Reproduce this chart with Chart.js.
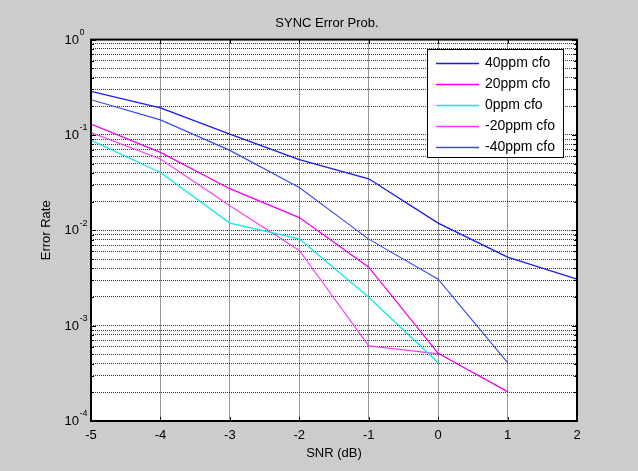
<!DOCTYPE html>
<html><head><meta charset="utf-8">
<script src="https://cdn.jsdelivr.net/npm/chart.js@4/dist/chart.umd.min.js"></script>
<style>html,body{margin:0;padding:0;background:#cccccc;}canvas{display:block;}</style>
</head><body>
<canvas id="c" width="638" height="471"></canvas>
<script>
// ---- data ----
const snr = [-5, -4, -3, -2, -1, 0, 1, 2];
const seriesLabels = ['40ppm cfo', '20ppm cfo', '0ppm cfo', '-20ppm cfo', '-40ppm cfo'];
const cfoPos40 = [0.286, 0.192, 0.102, 0.055, 0.0347, 0.0119, 0.00523, 0.00307];
const cfoPos20 = [0.130, 0.0656, 0.0273, 0.0136, 0.00411, 0.000513, 0.000203, null];
const cfo0     = [0.0877, 0.0404, 0.0119, 0.00814, 0.00199, 0.000409, null, null];
const cfoNeg20 = [0.106, 0.0559, 0.0181, 0.00614, 0.000613, 0.000505, null, null];
const cfoNeg40 = [0.234, 0.144, 0.0689, 0.0281, 0.00808, 0.00307, 0.000409, null];
const xTicks = [-5, -4, -3, -2, -1, 0, 1, 2];
const yDecades = [0.0001, 0.001, 0.01, 0.1, 1];
const yDecadeBase = '10';
const yDecadeExponents = ['-4', '-3', '-2', '-1', '0'];
const yMinorMultipliers = [2, 3, 4, 5, 6, 7, 8, 9];
const titleText = 'SYNC Error Prob.';
const xTitle = 'SNR (dB)';
const yTitle = 'Error Rate';

// ---- styles ----
const seriesValues = [cfoPos40, cfoPos20, cfo0, cfoNeg20, cfoNeg40];
const seriesColors = ['#1a1aee', '#ee00ee', '#10e8e8', '#ff3cff', '#3a4af2'];
const seriesWidths = [1.3, 1.3, 1.3, 1.15, 1.15];
const FONT = '"Liberation Sans", Arial, sans-serif';

const yTickValues = [];
yDecades.forEach((d, i) => {
  yTickValues.push(d);
  if (i < yDecades.length - 1) yMinorMultipliers.forEach(m => yTickValues.push(Number((d * m).toPrecision(3))));
});
const decadeIndex = v => yDecades.findIndex(d => Math.abs(d - v) / d < 1e-6);

Chart.defaults.font.family = FONT;
Chart.defaults.font.size = 13;
Chart.defaults.color = '#000';

const matlabPlugin = {
  id: 'matlab',
  beforeDraw(chart) {
    const {ctx, chartArea: a} = chart;
    ctx.save();
    ctx.fillStyle = '#cccccc';
    ctx.fillRect(0, 0, chart.width, chart.height);
    ctx.fillStyle = '#ffffff';
    ctx.fillRect(a.left, a.top, a.right - a.left, a.bottom - a.top);
    ctx.restore();
  },
  afterDraw(chart) {
    const {ctx, chartArea: a, scales} = chart;
    ctx.save();
    // inward tick marks
    ctx.strokeStyle = '#000';
    ctx.lineWidth = 1;
    ctx.beginPath();
    scales.x.ticks.forEach(t => {
      const px = Math.round(scales.x.getPixelForValue(t.value)) + 0.5;
      ctx.moveTo(px, a.bottom); ctx.lineTo(px, a.bottom - 4);
      ctx.moveTo(px, a.top); ctx.lineTo(px, a.top + 4);
    });
    scales.y.ticks.forEach(t => {
      const py = Math.round(scales.y.getPixelForValue(t.value)) + 0.5;
      const len = decadeIndex(t.value) >= 0 ? 5 : 3;
      ctx.moveTo(a.left, py); ctx.lineTo(a.left + len, py);
      ctx.moveTo(a.right, py); ctx.lineTo(a.right - len, py);
    });
    ctx.stroke();
    // frame
    ctx.lineWidth = 2;
    ctx.strokeRect(a.left, a.top, a.right - a.left, a.bottom - a.top);
    // y decade labels with superscript exponents, placed by the y scale
    ctx.fillStyle = '#000';
    ctx.textBaseline = 'middle';
    yDecades.forEach((d, i) => {
      const py = scales.y.getPixelForValue(d);
      const xr = a.left - 12;
      ctx.font = '13px ' + FONT;
      ctx.textAlign = 'right';
      ctx.fillText(yDecadeBase, xr, py + 0.5);
      ctx.font = '9px ' + FONT;
      ctx.textAlign = 'left';
      ctx.fillText(yDecadeExponents[i], xr + 0.5, py - 7);
    });
    // legend box
    const lx = 427, ly = 49, lw = 136, lh = 108;
    ctx.fillStyle = '#fff';
    ctx.fillRect(lx, ly, lw, lh);
    ctx.lineWidth = 1;
    ctx.strokeStyle = '#000';
    ctx.strokeRect(lx + 0.5, ly + 0.5, lw, lh);
    ctx.font = '14px ' + FONT;
    ctx.textBaseline = 'middle';
    ctx.textAlign = 'left';
    chart.data.datasets.forEach((ds, i) => {
      const y = 63 + i * 21;
      ctx.strokeStyle = ds.borderColor;
      ctx.lineWidth = 1.3;
      ctx.beginPath();
      ctx.moveTo(436, y + 0.5); ctx.lineTo(479, y + 0.5);
      ctx.stroke();
      ctx.fillStyle = '#000';
      ctx.fillText(ds.label, 485, y);
    });
    ctx.restore();
  }
};

new Chart(document.getElementById('c'), {
  type: 'line',
  data: {
    datasets: seriesLabels.map((lab, i) => ({
      label: lab,
      data: snr.map((x, j) => ({x: x, y: seriesValues[i][j]})).filter(p => p.y !== null),
      borderColor: seriesColors[i],
      backgroundColor: seriesColors[i],
      borderWidth: seriesWidths[i],
      pointRadius: 0,
      tension: 0,
      fill: false
    }))
  },
  options: {
    responsive: false,
    animation: false,
    devicePixelRatio: 1,
    layout: {padding: {left: 16, right: 0, top: 0, bottom: 0}},
    plugins: {
      legend: {display: false},
      tooltip: {enabled: false},
      title: {
        display: true,
        text: titleText,
        color: '#000',
        font: {size: 13, weight: 'normal'},
        padding: {top: 16, bottom: 8}
      }
    },
    scales: {
      x: {
        type: 'linear',
        min: -5, max: 2,
        afterBuildTicks: s => { s.ticks = xTicks.map(v => ({value: v})); },
        afterFit: s => { s.height = 50; },
        ticks: {autoSkip: false, padding: 7, maxRotation: 0, callback: v => String(v)},
        grid: {color: '#333333', lineWidth: 1, drawTicks: false},
        border: {display: false, dash: [1, 1]},
        title: {display: true, text: xTitle, padding: {top: 0, bottom: 10}}
      },
      y: {
        type: 'logarithmic',
        min: 0.0001, max: 1,
        afterBuildTicks: s => { s.ticks = yTickValues.map(v => ({value: v, major: decadeIndex(v) >= 0})); },
        afterFit: s => { s.width = 75; },
        ticks: {display: false, autoSkip: false},
        grid: {color: '#333333', lineWidth: 1, drawTicks: false},
        border: {display: false, dash: [1, 1]},
        title: {display: true, text: yTitle, padding: {top: 23, bottom: 0}}
      },
      yRight: {
        type: 'linear',
        position: 'right',
        display: true,
        afterFit: s => { s.width = 61; },
        ticks: {display: false},
        grid: {display: false, drawTicks: false},
        border: {display: false}
      }
    }
  },
  plugins: [matlabPlugin]
});
</script>
</body></html>
